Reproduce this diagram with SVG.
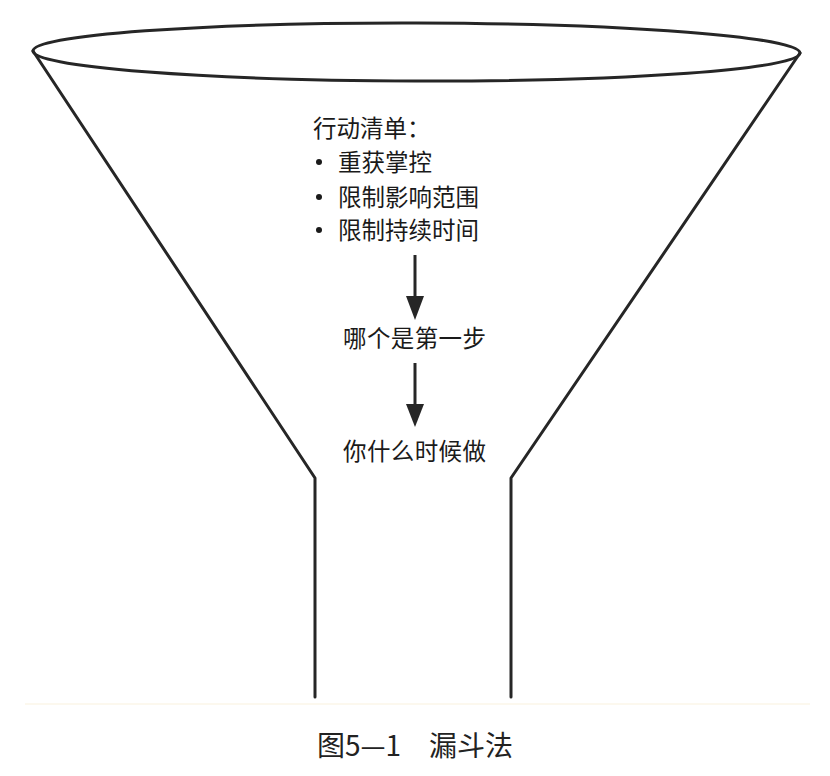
<svg xmlns="http://www.w3.org/2000/svg" width="830" height="776" viewBox="0 0 830 776">
<defs>
<style>
.ln{fill:none;stroke:#262626;stroke-width:3;stroke-linejoin:round;stroke-linecap:round}
.t{font-family:"Noto Sans CJK SC","Noto Sans",sans-serif;font-size:23.5px;fill:#1a1a1a}
.cap{font-family:"Noto Sans CJK SC","Noto Sans",sans-serif;font-size:28px;fill:#222}
.ar{stroke:#262626;stroke-width:3}
.dot{fill:#1a1a1a}
.head{fill:#262626}
</style>
</defs>
<rect width="830" height="776" fill="#fff"/>
<g id="funnel">
<ellipse cx="416.5" cy="52" rx="383.5" ry="29" class="ln" transform="rotate(0.15 416.5 52)"/>
<polyline class="ln" points="33,51 315,478 315,697"/>
<polyline class="ln" points="800,53 511,478 511,697"/>
<line x1="25" y1="704" x2="810" y2="704" stroke="#fbf6e8" stroke-width="1.5"/>
</g>
<g id="actions">
<text class="t" x="313" y="137">行动清单：</text>
<circle class="dot" cx="319" cy="162" r="3"/>
<text class="t" x="338" y="171">重获掌控</text>
<circle class="dot" cx="319" cy="197" r="3"/>
<text class="t" x="338" y="206">限制影响范围</text>
<circle class="dot" cx="319" cy="230" r="3"/>
<text class="t" x="338" y="239">限制持续时间</text>
</g>
<g id="step1">
<text class="t" x="343" y="347" textLength="143">哪个是第一步</text>
</g>
<g id="step2">
<text class="t" x="343" y="460" textLength="143">你什么时候做</text>
</g>
<g id="connectors">
<line class="ar" x1="415" y1="255" x2="415" y2="300"/>
<path class="head" d="M406,296 L424,296 L415,320 Z"/>
<line class="ar" x1="415" y1="363" x2="415" y2="408"/>
<path class="head" d="M406,404 L424,404 L415,427 Z"/>
</g>
<g id="caption">
<text class="cap" x="415" y="756" text-anchor="middle">图5—1　漏斗法</text>
</g>
</svg>
